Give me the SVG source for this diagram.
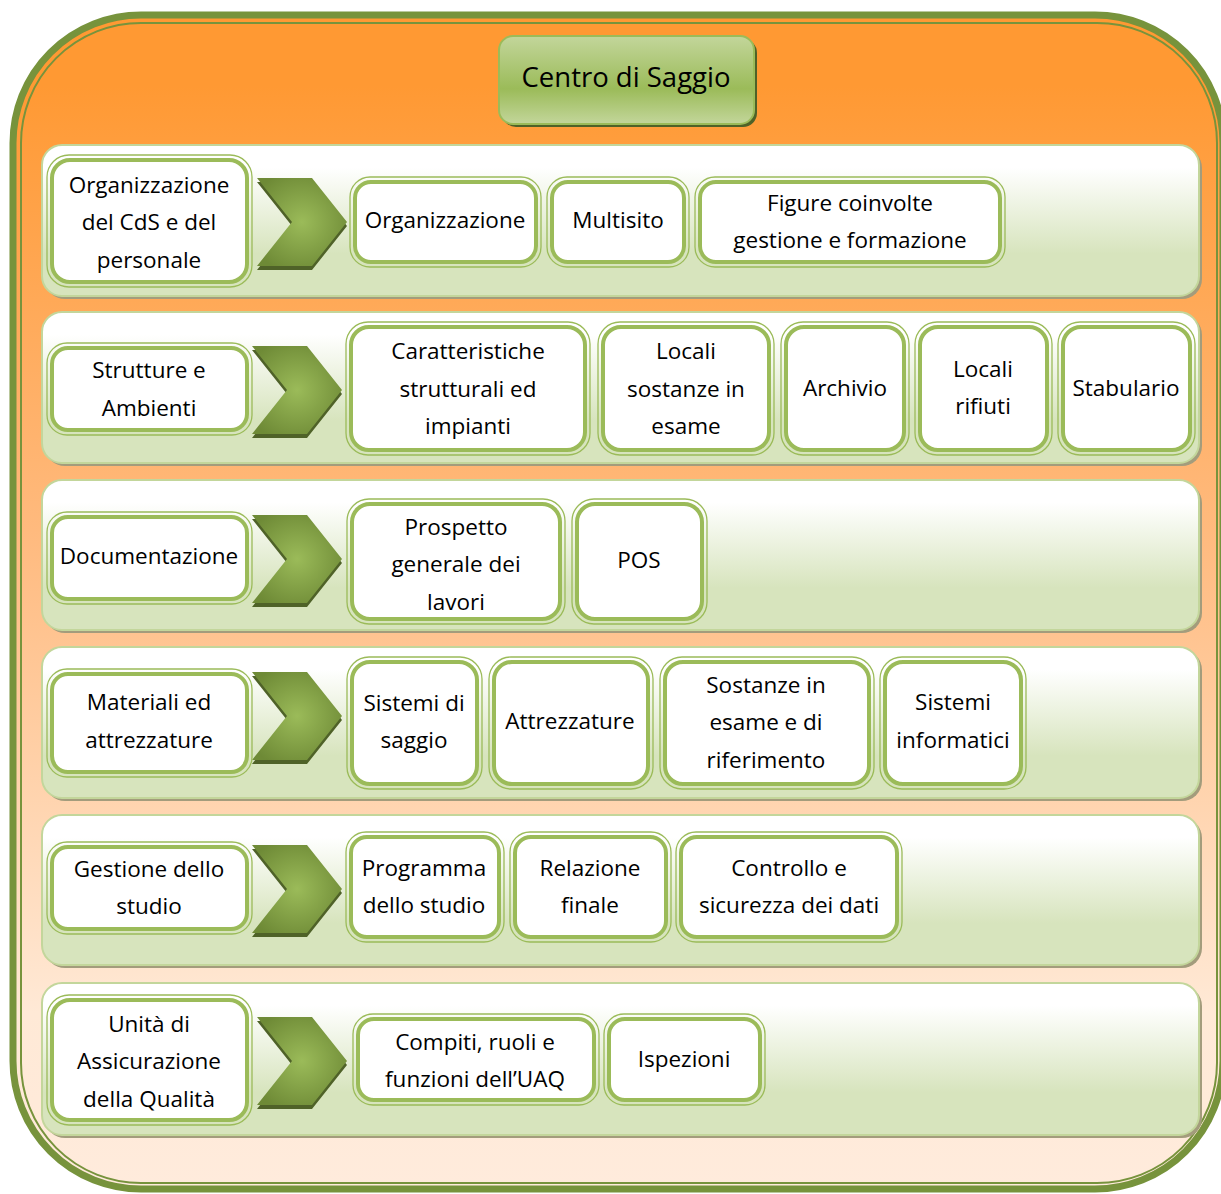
<svg xmlns="http://www.w3.org/2000/svg" width="1221" height="1194" viewBox="0 0 1221 1194">
<defs>
<linearGradient id="bg" x1="0" y1="0" x2="0" y2="1">
<stop offset="0.06" stop-color="#FF9933"/>
<stop offset="0.45" stop-color="#FFBB80"/>
<stop offset="0.85" stop-color="#FFE9D6"/>
<stop offset="1" stop-color="#FFEBDC"/>
</linearGradient>
<linearGradient id="panel" x1="0" y1="0" x2="0" y2="1">
<stop offset="0.15" stop-color="#FFFFFF"/>
<stop offset="0.72" stop-color="#D7E4BD"/>
<stop offset="1" stop-color="#D7E4BD"/>
</linearGradient>
<linearGradient id="title" x1="0" y1="0" x2="0" y2="1">
<stop offset="0" stop-color="#C3D69B"/>
<stop offset="0.6" stop-color="#9BBB59"/>
<stop offset="1" stop-color="#C3D69B"/>
</linearGradient>
<radialGradient id="chev" cx="0.5" cy="0.5" r="0.6">
<stop offset="0" stop-color="#9BBB59"/>
<stop offset="1" stop-color="#6E8A36"/>
</radialGradient>
<g id="chevron">
<path d="M0,4 L55,4 L90,48 L55,92 L0,92 L35,48 Z" fill="#4F6228"/>
<path d="M0,0 L55,0 L90,44 L55,88 L0,88 L35,44 Z" fill="url(#chev)"/>
</g>
</defs>
<style>
.t{font-family:"Open Sans","Liberation Sans",sans-serif;font-size:22.5px;fill:#000;text-anchor:middle}
.tt{font-family:"Open Sans","Liberation Sans",sans-serif;font-size:27.5px;fill:#000;text-anchor:middle}
.pnl{fill:url(#panel);stroke:#C3D69B;stroke-width:2}
.psh{fill:#A39C7C}
.no{fill:none;stroke:#9BBB59;stroke-width:1.3}
.ni{fill:#FFFFFF;stroke:#9BBB59;stroke-width:4}
</style>

<g id="frame">
<rect x="13" y="15" width="1210" height="1174" rx="128" fill="url(#bg)" stroke="#77933C" stroke-width="7"/>
<rect x="21" y="23" width="1196" height="1160" rx="120" fill="none" stroke="#77933C" stroke-width="2"/>
</g>

<g id="title-node">
<rect x="502" y="39" width="255" height="88" rx="14" fill="#4F6228"/>
<rect x="499" y="36" width="255" height="88" rx="14" fill="url(#title)" stroke="#9BBB59" stroke-width="2"/>
<text class="tt" x="626" y="87">Centro di Saggio</text>
</g>

<g id="panels">
<rect class="psh" x="45" y="148" width="1157" height="151" rx="20"/>
<rect class="pnl" x="42" y="145" width="1157" height="151" rx="20"/>
<rect class="psh" x="45" y="315" width="1157" height="151" rx="20"/>
<rect class="pnl" x="42" y="312" width="1157" height="151" rx="20"/>
<rect class="psh" x="45" y="483" width="1157" height="150" rx="20"/>
<rect class="pnl" x="42" y="480" width="1157" height="150" rx="20"/>
<rect class="psh" x="45" y="650" width="1157" height="151" rx="20"/>
<rect class="pnl" x="42" y="647" width="1157" height="151" rx="20"/>
<rect class="psh" x="45" y="818" width="1157" height="150" rx="20"/>
<rect class="pnl" x="42" y="815" width="1157" height="150" rx="20"/>
<rect class="psh" x="45" y="986" width="1157" height="152" rx="20"/>
<rect class="pnl" x="42" y="983" width="1157" height="152" rx="20"/>
</g>

<g id="connectors">
<use href="#chevron" x="257" y="178"/>
<use href="#chevron" x="252" y="346"/>
<use href="#chevron" x="252" y="515"/>
<use href="#chevron" x="252" y="672"/>
<use href="#chevron" x="252" y="845"/>
<use href="#chevron" x="257" y="1017"/>
</g>

<!-- Row 1 -->
<g id="n-org-cds">
<rect class="no" x="47" y="155" width="205" height="132" rx="22"/>
<rect class="ni" x="52" y="160" width="195" height="122" rx="18"/>
<text class="t" x="149" y="193">Organizzazione</text>
<text class="t" x="149" y="230">del CdS e del</text>
<text class="t" x="149" y="268">personale</text>
</g>
<g id="n-organizzazione">
<rect class="no" x="350" y="177" width="191" height="90" rx="20"/>
<rect class="ni" x="355" y="182" width="181" height="80" rx="16"/>
<text class="t" x="445" y="228">Organizzazione</text>
</g>
<g id="n-multisito">
<rect class="no" x="547" y="177" width="142" height="90" rx="20"/>
<rect class="ni" x="552" y="182" width="132" height="80" rx="16"/>
<text class="t" x="618" y="228">Multisito</text>
</g>
<g id="n-figure">
<rect class="no" x="695" y="177" width="310" height="90" rx="20"/>
<rect class="ni" x="700" y="182" width="300" height="80" rx="16"/>
<text class="t" x="850" y="211">Figure coinvolte</text>
<text class="t" x="850" y="248">gestione e formazione</text>
</g>

<!-- Row 2 -->
<g id="n-strutture">
<rect class="no" x="47" y="343" width="205" height="92" rx="20"/>
<rect class="ni" x="52" y="348" width="195" height="82" rx="16"/>
<text class="t" x="149" y="378">Strutture e</text>
<text class="t" x="149" y="416">Ambienti</text>
</g>
<g id="n-caratteristiche">
<rect class="no" x="346" y="322" width="244" height="133" rx="22"/>
<rect class="ni" x="351" y="327" width="234" height="123" rx="18"/>
<text class="t" x="468" y="359">Caratteristiche</text>
<text class="t" x="468" y="397">strutturali ed</text>
<text class="t" x="468" y="434">impianti</text>
</g>
<g id="n-locali-sostanze">
<rect class="no" x="598" y="322" width="176" height="133" rx="22"/>
<rect class="ni" x="603" y="327" width="166" height="123" rx="18"/>
<text class="t" x="686" y="359">Locali</text>
<text class="t" x="686" y="397">sostanze in</text>
<text class="t" x="686" y="434">esame</text>
</g>
<g id="n-archivio">
<rect class="no" x="781" y="322" width="128" height="133" rx="22"/>
<rect class="ni" x="786" y="327" width="118" height="123" rx="18"/>
<text class="t" x="845" y="396">Archivio</text>
</g>
<g id="n-locali-rifiuti">
<rect class="no" x="915" y="322" width="137" height="133" rx="22"/>
<rect class="ni" x="920" y="327" width="127" height="123" rx="18"/>
<text class="t" x="983" y="377">Locali</text>
<text class="t" x="983" y="414">rifiuti</text>
</g>
<g id="n-stabulario">
<rect class="no" x="1058" y="322" width="137" height="133" rx="22"/>
<rect class="ni" x="1063" y="327" width="127" height="123" rx="18"/>
<text class="t" x="1126" y="396">Stabulario</text>
</g>

<!-- Row 3 -->
<g id="n-documentazione">
<rect class="no" x="47" y="512" width="205" height="92" rx="20"/>
<rect class="ni" x="52" y="517" width="195" height="82" rx="16"/>
<text class="t" x="149" y="564">Documentazione</text>
</g>
<g id="n-prospetto">
<rect class="no" x="347" y="499" width="218" height="125" rx="22"/>
<rect class="ni" x="352" y="504" width="208" height="115" rx="18"/>
<text class="t" x="456" y="535">Prospetto</text>
<text class="t" x="456" y="572">generale dei</text>
<text class="t" x="456" y="610">lavori</text>
</g>
<g id="n-pos">
<rect class="no" x="572" y="499" width="135" height="125" rx="22"/>
<rect class="ni" x="577" y="504" width="125" height="115" rx="18"/>
<text class="t" x="639" y="568">POS</text>
</g>

<!-- Row 4 -->
<g id="n-materiali">
<rect class="no" x="47" y="669" width="205" height="108" rx="20"/>
<rect class="ni" x="52" y="674" width="195" height="98" rx="16"/>
<text class="t" x="149" y="710">Materiali ed</text>
<text class="t" x="149" y="748">attrezzature</text>
</g>
<g id="n-sistemi-saggio">
<rect class="no" x="347" y="657" width="135" height="132" rx="22"/>
<rect class="ni" x="352" y="662" width="125" height="122" rx="18"/>
<text class="t" x="414" y="711">Sistemi di</text>
<text class="t" x="414" y="748">saggio</text>
</g>
<g id="n-attrezzature">
<rect class="no" x="489" y="657" width="164" height="132" rx="22"/>
<rect class="ni" x="494" y="662" width="154" height="122" rx="18"/>
<text class="t" x="570" y="729">Attrezzature</text>
</g>
<g id="n-sostanze">
<rect class="no" x="660" y="657" width="214" height="132" rx="22"/>
<rect class="ni" x="665" y="662" width="204" height="122" rx="18"/>
<text class="t" x="766" y="693">Sostanze in</text>
<text class="t" x="766" y="730">esame e di</text>
<text class="t" x="766" y="768">riferimento</text>
</g>
<g id="n-sistemi-informatici">
<rect class="no" x="880" y="657" width="146" height="132" rx="22"/>
<rect class="ni" x="885" y="662" width="136" height="122" rx="18"/>
<text class="t" x="953" y="710">Sistemi</text>
<text class="t" x="953" y="748">informatici</text>
</g>

<!-- Row 5 -->
<g id="n-gestione">
<rect class="no" x="47" y="842" width="205" height="92" rx="20"/>
<rect class="ni" x="52" y="847" width="195" height="82" rx="16"/>
<text class="t" x="149" y="877">Gestione dello</text>
<text class="t" x="149" y="914">studio</text>
</g>
<g id="n-programma">
<rect class="no" x="346" y="832" width="158" height="110" rx="20"/>
<rect class="ni" x="351" y="837" width="148" height="100" rx="16"/>
<text class="t" x="424" y="876">Programma</text>
<text class="t" x="424" y="913">dello studio</text>
</g>
<g id="n-relazione">
<rect class="no" x="510" y="832" width="161" height="110" rx="20"/>
<rect class="ni" x="515" y="837" width="151" height="100" rx="16"/>
<text class="t" x="590" y="876">Relazione</text>
<text class="t" x="590" y="913">finale</text>
</g>
<g id="n-controllo">
<rect class="no" x="676" y="832" width="226" height="110" rx="20"/>
<rect class="ni" x="681" y="837" width="216" height="100" rx="16"/>
<text class="t" x="789" y="876">Controllo e</text>
<text class="t" x="789" y="913">sicurezza dei dati</text>
</g>

<!-- Row 6 -->
<g id="n-uaq">
<rect class="no" x="47" y="995" width="205" height="130" rx="22"/>
<rect class="ni" x="52" y="1000" width="195" height="120" rx="18"/>
<text class="t" x="149" y="1032">Unità di</text>
<text class="t" x="149" y="1069">Assicurazione</text>
<text class="t" x="149" y="1107">della Qualità</text>
</g>
<g id="n-compiti">
<rect class="no" x="353" y="1014" width="246" height="91" rx="20"/>
<rect class="ni" x="358" y="1019" width="236" height="81" rx="16"/>
<text class="t" x="475" y="1050">Compiti, ruoli e</text>
<text class="t" x="475" y="1087">funzioni dell’UAQ</text>
</g>
<g id="n-ispezioni">
<rect class="no" x="604" y="1014" width="161" height="91" rx="20"/>
<rect class="ni" x="609" y="1019" width="151" height="81" rx="16"/>
<text class="t" x="684" y="1067">Ispezioni</text>
</g>
</svg>
